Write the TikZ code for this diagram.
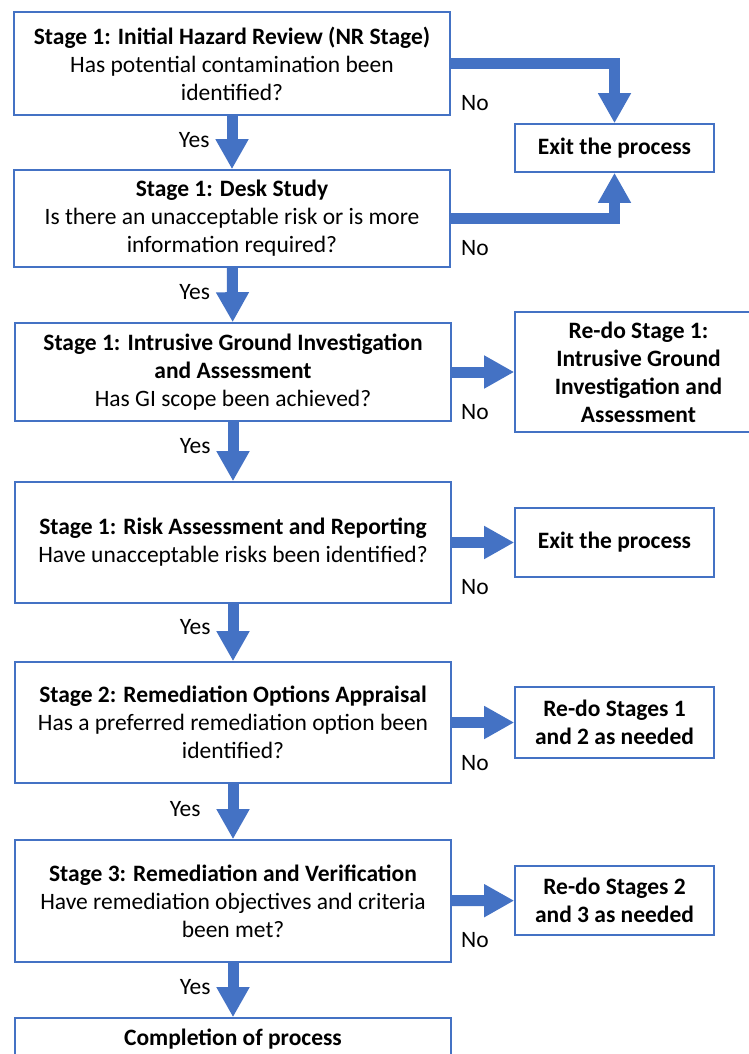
\documentclass[tikz,border=0pt]{standalone}
\usepackage{fontspec}
\setmainfont{Carlito}
\usetikzlibrary{arrows.meta}
\definecolor{flowblue}{HTML}{4472C4}
\tikzset{
  stagebox/.style={draw=flowblue, line width=1.6pt, align=center, minimum width=436pt, inner sep=0pt, font=\fontsize{23.5}{28}\selectfont},
  sidebox/.style={stagebox, minimum width=199pt, font=\fontsize{23.5}{28}\selectfont\bfseries},
  flow/.style={flowblue, line width=11pt, -{Triangle[width=31pt,length=30pt]}},
  lbl/.style={text=black, font=\fontsize{23.5}{28}\selectfont, inner sep=0pt}
}
\begin{document}
\begin{tikzpicture}[x=1pt,y={(0,-1pt)}]
  \useasboundingbox (0,0) rectangle (749,1054);
  \clip (0,0) rectangle (749,1054);
  % main column
  \node[stagebox, minimum height=103pt] (hazard) at (232,63.5)
    {\textbf{Stage 1: Initial Hazard Review (NR Stage)}\\Has potential contamination been\\identified?};
  \node[stagebox, minimum height=97pt] (desk) at (232,218.5)
    {\textbf{Stage 1: Desk Study}\\Is there an unacceptable risk or is more\\information required?};
  \node[stagebox, minimum height=98pt] (intrusive) at (233,372)
    {\textbf{Stage 1: Intrusive Ground Investigation}\\\textbf{and Assessment}\\Has GI scope been achieved?};
  \node[stagebox, minimum height=121pt] (riskrep) at (233,542.5)
    {\textbf{Stage 1: Risk Assessment and Reporting}\\Have unacceptable risks been identified?};
  \node[stagebox, minimum height=121pt] (options) at (233,722.5)
    {\textbf{Stage 2: Remediation Options Appraisal}\\Has a preferred remediation option been\\identified?};
  \node[stagebox, minimum height=122pt] (verify) at (233,901)
    {\textbf{Stage 3: Remediation and Verification}\\Have remediation objectives and criteria\\been met?};
  \node[stagebox, minimum height=42pt] (complete) at (233,1039)
    {\textbf{Completion of process}};
  % side column
  \node[sidebox, minimum height=48pt] (exitA) at (614.5,148) {Exit the process};
  \node[sidebox, minimum width=247pt, minimum height=120pt] (redoA) at (638.5,372)
    {Re-do Stage 1:\\Intrusive Ground\\Investigation and\\Assessment};
  \node[sidebox, minimum height=69pt] (exitB) at (614.5,542.5) {Exit the process};
  \node[sidebox, minimum height=71pt] (redoB) at (614.5,722.5) {Re-do Stages 1\\and 2 as needed};
  \node[sidebox, minimum height=69pt] (redoC) at (614.5,900.5) {Re-do Stages 2\\and 3 as needed};
  % yes arrows
  \draw[flow] (hazard) -- node[lbl, pos=0.45, left=17pt] (yesA) {Yes} (desk);
  \draw[flow] (desk) -- node[lbl, pos=0.45, left=17pt] (yesB) {Yes} (intrusive);
  \draw[flow] (intrusive) -- node[lbl, pos=0.4, left=17pt] (yesC) {Yes} (riskrep);
  \draw[flow] (riskrep) -- node[lbl, pos=0.4, left=17pt] (yesD) {Yes} (options);
  \draw[flow] (options) -- node[lbl, pos=0.45, left=27pt] (yesE) {Yes} (verify);
  \draw[flow] (verify) -- node[lbl, pos=0.45, left=17pt] (yesF) {Yes} (complete);
  % no arrows
  \draw[flow] (hazard.east) -| (exitA.north);
  \draw[flow] (desk.east) -| (exitA.south);
  \draw[flow] (intrusive) -- (redoA);
  \draw[flow] (riskrep) -- (exitB);
  \draw[flow] (options) -- (redoB);
  \draw[flow] (verify) -- (redoC);
  \node[lbl] (noA) at (475,103) {No};
  \node[lbl] (noB) at (475,248) {No};
  \node[lbl] (noC) at (475,412) {No};
  \node[lbl] (noD) at (475,587) {No};
  \node[lbl] (noE) at (475,763) {No};
  \node[lbl] (noF) at (475,940) {No};
\end{tikzpicture}
\end{document}
